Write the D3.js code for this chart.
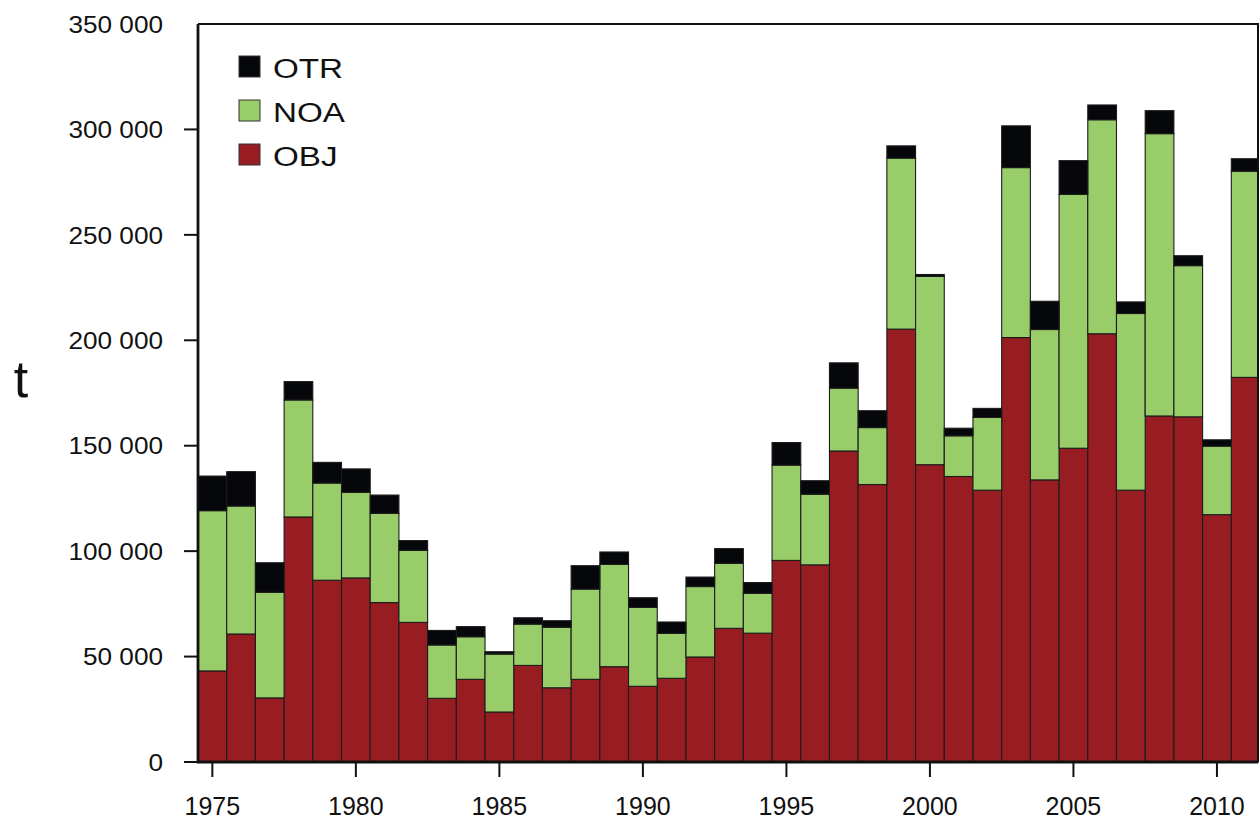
<!DOCTYPE html>
<html>
<head>
<meta charset="utf-8">
<script src="https://cdn.jsdelivr.net/npm/d3@7"></script>
<style>
  html, body { margin: 0; padding: 0; background: #fff; }
  text { font-family: "Liberation Sans", Arial, sans-serif; fill: #111; }
</style>
</head>
<body>
<div id="chart"></div>
<script>
// data (t)
const years = [1975, 1976, 1977, 1978, 1979, 1980, 1981, 1982, 1983, 1984,
  1985, 1986, 1987, 1988, 1989, 1990, 1991, 1992, 1993, 1994,
  1995, 1996, 1997, 1998, 1999, 2000, 2001, 2002, 2003, 2004,
  2005, 2006, 2007, 2008, 2009, 2010, 2011];

const OBJ = [43200, 60700, 30400, 116200, 86200, 87300, 75600, 66200, 30200, 39200,
  23700, 45800, 35200, 39200, 45200, 35900, 39700, 49800, 63400, 61100,
  95600, 93500, 147500, 131600, 205300, 141000, 135400, 128900, 201300, 133800,
  148800, 203100, 128900, 164100, 163700, 117300, 182400];

const NOA = [76000, 60700, 50100, 55500, 46100, 40600, 42300, 34200, 25300, 20200,
  27500, 19600, 28700, 42800, 48500, 37400, 21300, 33400, 30800, 18900,
  45200, 33500, 29800, 27000, 81100, 89300, 19300, 34500, 80600, 71300,
  120400, 101500, 83800, 133900, 71700, 32500, 97800];

const OTR = [16400, 16300, 14000, 8700, 9800, 11100, 8700, 4600, 6900, 4800,
  1100, 3000, 3100, 11100, 5900, 4600, 5400, 4500, 7000, 5100,
  10700, 6400, 12000, 8000, 5800, 900, 3600, 4300, 19800, 13400,
  16000, 7000, 5500, 10900, 4700, 3000, 5900];

const seriesKeys = ['OBJ', 'NOA', 'OTR'];
const seriesColors = ['#981d22', '#99cd69', '#06070a'];
const legendKeys = ['OTR', 'NOA', 'OBJ'];

const xTickYears = [1975, 1980, 1985, 1990, 1995, 2000, 2005, 2010];
const yTicks = [0, 50000, 100000, 150000, 200000, 250000, 300000, 350000];

const width = 1259;
const height = 820;
const margin = { top: 24, right: 1, bottom: 58, left: 198 };

const table = years.map((year, i) => ({ year, OBJ: OBJ[i], NOA: NOA[i], OTR: OTR[i] }));
const stacked = d3.stack().keys(seriesKeys)(table);

const svg = d3.select('#chart')
  .append('svg')
  .attr('width', width)
  .attr('height', height);

const x = d3.scaleLinear()
  .domain([years[0] - 0.5, years[years.length - 1] + 0.5])
  .range([margin.left, width + 1]);

const y = d3.scaleLinear()
  .domain([0, 350000])
  .range([height - margin.bottom, margin.top]);

const color = d3.scaleOrdinal().domain(seriesKeys).range(seriesColors);

// bars
svg.append('g')
  .selectAll('g')
  .data(stacked)
  .join('g')
  .attr('fill', (d) => color(d.key))
  .selectAll('rect')
  .data((d) => d)
  .join('rect')
  .attr('x', (d) => x(d.data.year - 0.5))
  .attr('width', (d) => x(d.data.year + 0.5) - x(d.data.year - 0.5))
  .attr('y', (d) => y(d[1]))
  .attr('height', (d) => y(d[0]) - y(d[1]))
  .attr('stroke', '#1c1c1c')
  .attr('stroke-width', 1.1);

// frame
const x0 = margin.left;
const x1 = width - 1;
const y0 = y(0);
const y1 = y(350000);

svg.append('path')
  .attr('d', `M${x0},${y1}H${x1}V${y0}`)
  .attr('fill', 'none')
  .attr('stroke', '#111')
  .attr('stroke-width', 2);

svg.append('path')
  .attr('d', `M${x0},${y1}V${y0}H${x1}`)
  .attr('fill', 'none')
  .attr('stroke', '#111')
  .attr('stroke-width', 2.8);

// y axis
const fmt = (v) => d3.format(',')(v).replace(/,/g, ' ');

const yAxis = svg.append('g');
yAxis.selectAll('line')
  .data(yTicks.filter((v) => v < 350000))
  .join('line')
  .attr('x1', x0 - 14)
  .attr('x2', x0)
  .attr('y1', (d) => y(d))
  .attr('y2', (d) => y(d))
  .attr('stroke', '#111')
  .attr('stroke-width', 2);

yAxis.selectAll('g')
  .data(yTicks)
  .join('g')
  .attr('transform', (d) => `translate(163,${y(d)}) scale(1.09,1)`)
  .append('text')
  .attr('dy', '0.36em')
  .attr('text-anchor', 'end')
  .attr('font-size', 24)
  .text(fmt);

svg.append('text')
  .attr('x', 21)
  .attr('y', 397)
  .attr('text-anchor', 'middle')
  .attr('font-size', 52)
  .text('t');

// x axis
const xAxis = svg.append('g');
xAxis.selectAll('line')
  .data(xTickYears)
  .join('line')
  .attr('x1', (d) => x(d))
  .attr('x2', (d) => x(d))
  .attr('y1', y0)
  .attr('y2', y0 + 15)
  .attr('stroke', '#111')
  .attr('stroke-width', 2);

xAxis.selectAll('text')
  .data(xTickYears)
  .join('text')
  .attr('x', (d) => x(d))
  .attr('y', 815)
  .attr('text-anchor', 'middle')
  .attr('font-size', 25)
  .text((d) => d);

// legend
const legend = svg.append('g')
  .selectAll('g')
  .data(legendKeys)
  .join('g')
  .attr('transform', (d, i) => `translate(239,${56 + i * 44})`);

legend.append('rect')
  .attr('width', 21)
  .attr('height', 21)
  .attr('fill', (d) => color(d))
  .attr('stroke', '#333')
  .attr('stroke-width', 1);

legend.append('g')
  .attr('transform', 'translate(34,22) scale(1.23,1)')
  .append('text')
  .attr('font-size', 27)
  .text((d) => d);
</script>
</body>
</html>
